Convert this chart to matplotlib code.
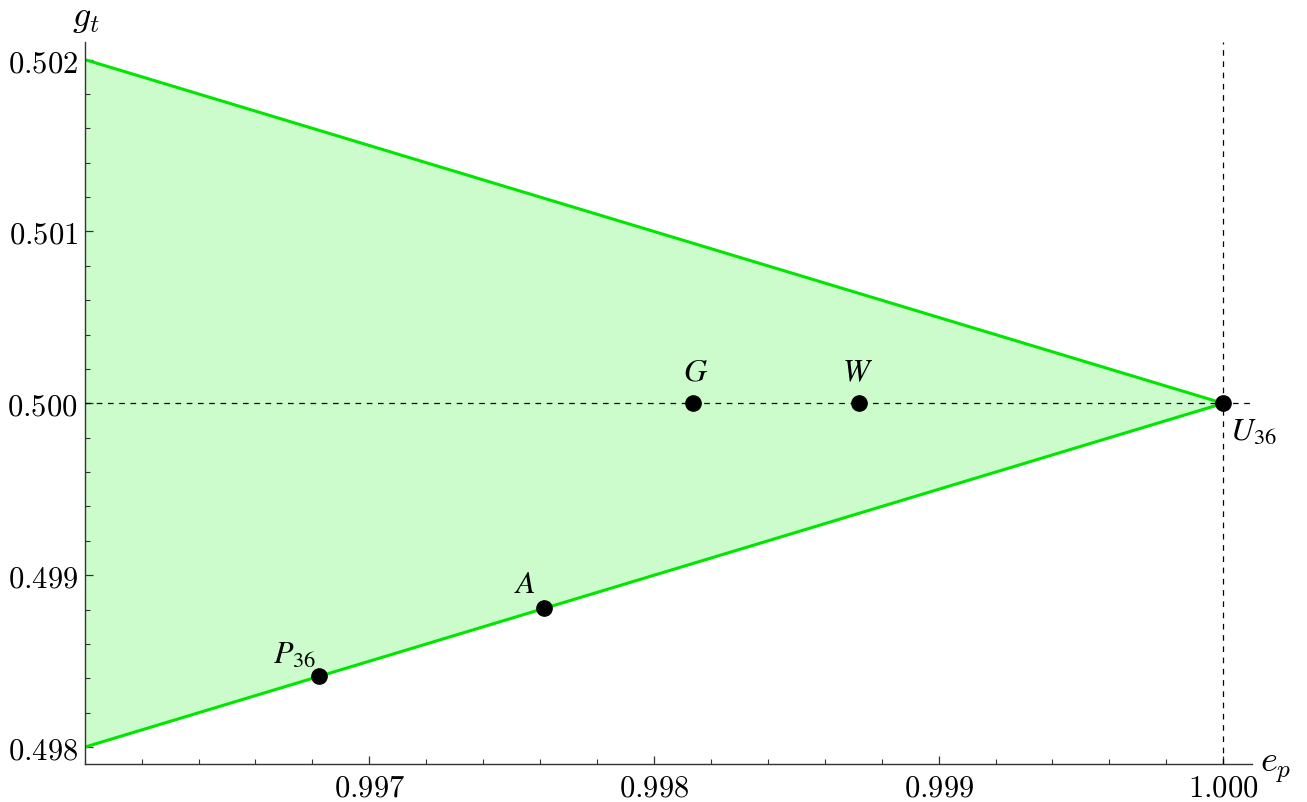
import numpy as np
import matplotlib
matplotlib.use("Agg")
import matplotlib.pyplot as plt
from matplotlib.ticker import MultipleLocator, FuncFormatter

# Boundary of the admissible region in the (e_p, g_t) plane
edge_x = [0.996, 1.000]
upper_y = [0.502, 0.500]
lower_y = [0.498, 0.500]

# Named points
point_names = ["$G$", "$W$", "$A$", "$P_{36}$", "$U_{36}$"]
point_x = [0.998138, 0.998720, 0.997615, 0.996822, 1.000]
point_y = [0.500, 0.500, 0.498808, 0.498411, 0.500]
# label offsets in points
label_offsets = [(2, 23), (-1, 23), (-14, 18), (-17, 16), (22, -20)]

x_ticks = [0.997, 0.998, 0.999, 1.000]
y_ticks = [0.498, 0.499, 0.500, 0.501, 0.502]

fig = plt.figure(figsize=(13.07, 8.03), dpi=100)
ax = fig.add_axes([0.0648, 0.0469, 0.9577 - 0.0648, 0.946 - 0.0469])

green = "#00e600"
ax.fill_between(edge_x, lower_y, upper_y, color="#ccfccc", linewidth=0, zorder=1)
ax.plot(edge_x, upper_y, color=green, lw=2.2, zorder=2, solid_capstyle="butt")
ax.plot(edge_x, lower_y, color=green, lw=2.2, zorder=2, solid_capstyle="butt")

ax.axhline(0.500, color="black", lw=0.9, dashes=(4.5, 4.5), zorder=3)
ax.axvline(1.000, color="black", lw=0.9, dashes=(4.5, 4.5), zorder=3)

ax.plot(point_x, point_y, "o", color="black", ms=11, zorder=5)
for name, x, y, off in zip(point_names, point_x, point_y, label_offsets):
    ax.annotate(name, (x, y), xytext=off, textcoords="offset points",
                ha="center", va="center", fontsize=23,
                math_fontfamily="stix", zorder=6)

ax.set_xlim(0.996, 1.0001)
ax.set_ylim(0.4979, 0.5021)

for s in ["top", "right"]:
    ax.spines[s].set_visible(False)
for s in ["left", "bottom"]:
    ax.spines[s].set_color("#333333")
    ax.spines[s].set_linewidth(1.0)

ax.set_xticks(x_ticks)
ax.set_yticks(y_ticks)
ax.xaxis.set_minor_locator(MultipleLocator(0.0002))
ax.yaxis.set_minor_locator(MultipleLocator(0.0002))
fmt = FuncFormatter(lambda v, p: f"${v:.3f}$")
ax.xaxis.set_major_formatter(fmt)
ax.yaxis.set_major_formatter(fmt)
ax.tick_params(which="major", direction="in", length=6, width=0.9,
               labelsize=22, color="#333333", pad=6)
ax.tick_params(which="minor", direction="in", length=3.5, width=0.8, color="#333333")
ax.tick_params(axis="y", which="major", pad=5)

fig.canvas.draw()
for lab in ax.get_xticklabels() + ax.get_yticklabels():
    lab.set_math_fontfamily("cm")

fig.text(86 / 1307, 1 - 18 / 803, "$g_t$", fontsize=26, ha="center", va="center",
         math_fontfamily="cm")
fig.text(1276 / 1307, 1 - 768 / 803, "$e_p$", fontsize=26, ha="center", va="center",
         math_fontfamily="cm")

fig.savefig("out.png", dpi=100)
